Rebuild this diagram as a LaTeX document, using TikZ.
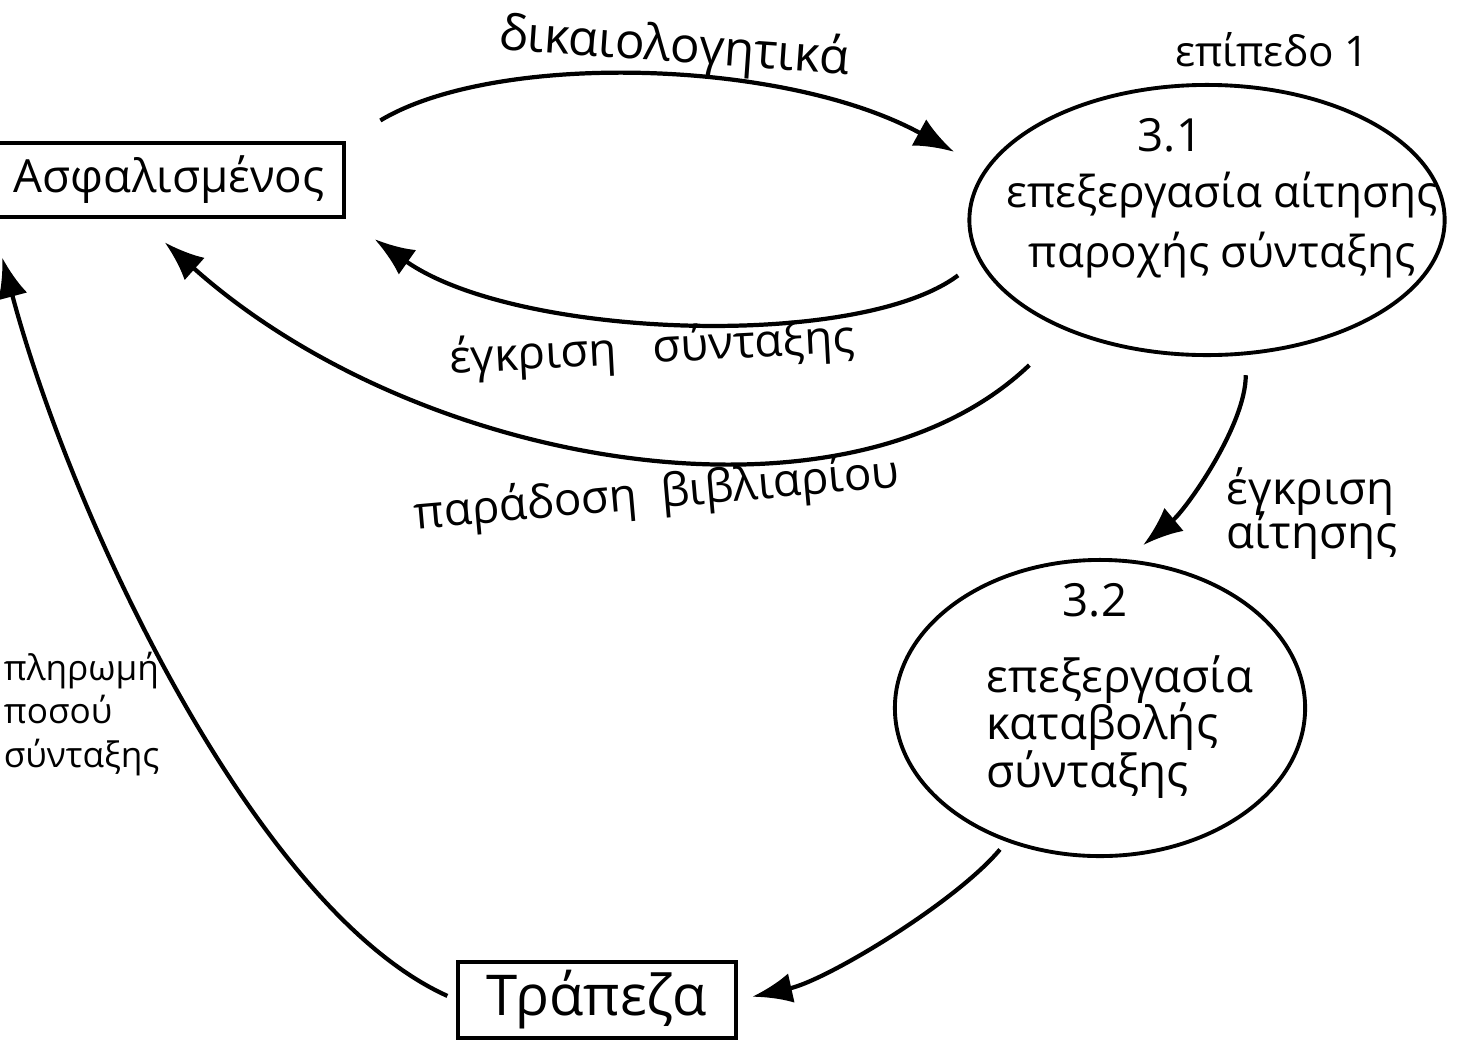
\documentclass[tikz,border=0pt]{standalone}
\usepackage{fontspec}
\setmainfont{Open Sans}
\usetikzlibrary{shapes.geometric, arrows.meta, positioning}
\newcommand{\tightlines}{\lineskiplimit=-8pt\relax}

\begin{document}
\begin{tikzpicture}[x=0.01cm, y=-0.01cm, line width=1.1pt,
    flow/.style={-{Latex[length=4mm,width=3mm]}, line width=1.2pt},
    entity/.style={draw, inner sep=0pt},
    proc/.style={draw, ellipse, inner sep=0pt},
    lbl/.style={inner sep=0pt, font=\fontsize{13}{15}\selectfont}]
    \useasboundingbox (0,0) rectangle (1467,1042);

    % Externals
    \node[entity, minimum width=3.5cm, minimum height=0.74cm,
          font=\fontsize{13}{15}\selectfont] (asf) at (169,180) {Ασφαλισμένος};
    \node[entity, minimum width=2.77cm, minimum height=0.76cm,
          font=\fontsize{16}{18}\selectfont] (trap) at (597,1000) {Τράπεζα};

    % Processes
    \node[lbl, font=\fontsize{12}{14}\selectfont] (lev) at (1272,50) {επίπεδο 1};
    \node[proc, minimum width=4.75cm, minimum height=2.7cm] (p31) at (1207,220) {};
    \node[lbl, font=\fontsize{13}{15}\selectfont] (n31) at (1170,135) {3.1};
    \node[lbl, align=center, font=\fontsize{12.5}{17}\selectfont] (t31) at (1222,225)
          {επεξεργασία αίτησης\\παροχής σύνταξης};
    \node[proc, minimum width=4.1cm, minimum height=2.96cm] (p32) at (1100,708) {};
    \node[lbl, font=\fontsize{13}{15}\selectfont] (n32) at (1095,600) {3.2};
    \node[lbl, anchor=west, align=left,
          font=\fontsize{13}{13.5}\selectfont\tightlines] (t32) at (985,727)
          {επεξεργασία\\καταβολής\\σύνταξης};

    % Flows
    \draw[flow, shorten <=4mm, shorten >=3.5mm] (asf.north east)
          .. controls +(150,-90) and +(-200,-110) .. (p31.167);
    \node[lbl, rotate=-4, font=\fontsize{14}{16}\selectfont] (l1) at (674,48) {δικαιολογητικά};

    \draw[flow, shorten <=2.5mm, shorten >=3.5mm] (p31.190)
          .. controls +(-120,90) and +(170,120) .. (asf.south east);
    \node[lbl, rotate=3] (l2) at (652,350) {έγκριση\ \ \ σύνταξης};

    \draw[flow, shorten <=5mm, shorten >=3.5mm] (p31.218)
          .. controls +(-220,210) and +(280,250) .. (asf.-128);
    \node[lbl, rotate=5] (l3) at (657,495) {παράδοση\ \ βιβλιαρίου};

    \draw[flow, shorten <=2mm, shorten >=2.2mm] (p31.-74)
          .. controls +(0,70) and +(60,-50) .. (p32.80);
    \node[lbl, anchor=north west, align=left,
          font=\fontsize{13}{12.5}\selectfont\tightlines] (l4) at (1225,466)
          {έγκριση\\αίτησης};

    \draw[flow, shorten <=1mm, shorten >=1.5mm] (p32.235)
          .. controls +(-50,60) and +(90,-20) .. (trap.east);

    \draw[flow, shorten <=1mm, shorten >=4mm] (trap.west)
          .. controls +(-200,-90) and +(80,300) .. (asf.south west);
    \node[lbl, anchor=west, align=left,
          font=\fontsize{10}{12.5}\selectfont\tightlines] (l5) at (2,714)
          {πληρωμή\\ποσού\\σύνταξης};
\end{tikzpicture}
\end{document}
